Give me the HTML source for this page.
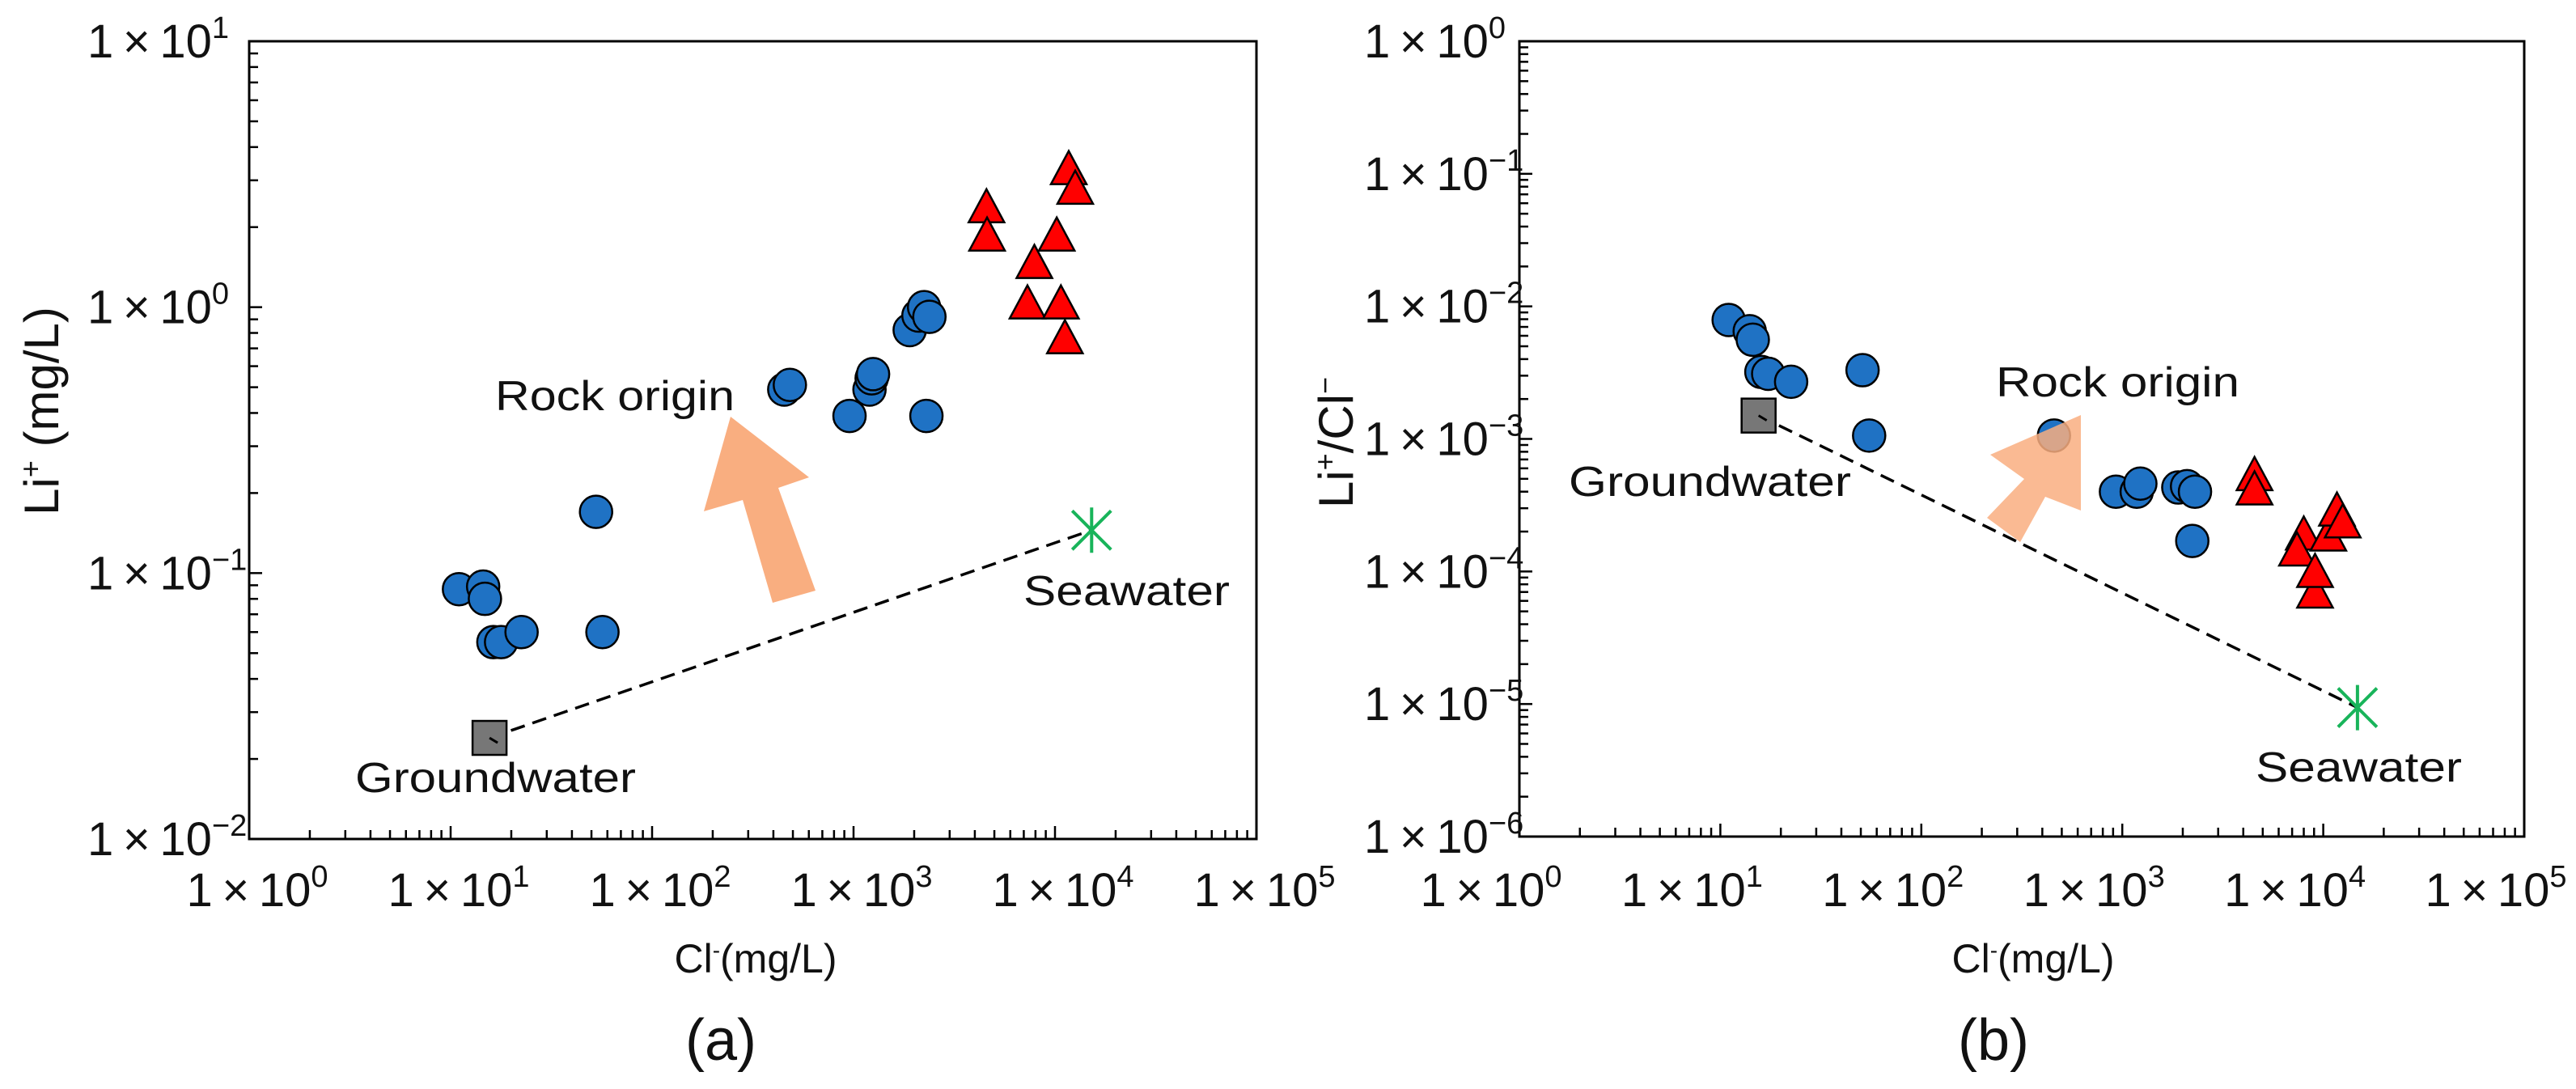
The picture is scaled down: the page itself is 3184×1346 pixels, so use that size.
<!DOCTYPE html>
<html><head><meta charset="utf-8">
<style>
html,body{margin:0;padding:0;background:#fff;}
svg{display:block;font-family:"Liberation Sans",Arial,sans-serif;}
</style></head>
<body>
<svg id="fig" width="3184" height="1346" viewBox="0 0 3184 1346" xmlns="http://www.w3.org/2000/svg">
<rect x="0" y="0" width="3184" height="1346" fill="#fff"/>
<g id="pa"></g>
<g id="pb"></g>
</svg>
<script>
// ---- Panel (a) data: Li+ vs Cl- ----
const aCircleCl = [11, 14.5, 14.8, 16.3, 17.8, 22.5, 52.7, 56.7, 453, 483, 955, 1200, 1230, 1250, 1900, 2100, 2240, 2380, 2300];
const aCircleLi = [0.087, 0.089, 0.08, 0.055, 0.055, 0.06, 0.17, 0.06, 0.49, 0.51, 0.39, 0.49, 0.54, 0.56, 0.82, 0.93, 1.0, 0.92, 0.39];
const aTriCl = [4570, 4600, 7900, 7300, 10200, 10700, 11200, 11700, 12600];
const aTriLi = [2.3, 1.8, 1.42, 1.0, 1.8, 1.0, 0.74, 3.2, 2.7];
const aGroundwater = [15.6, 0.024];
const aSeawater = [15200, 0.145];
// ---- Panel (b) data: Li+/Cl- vs Cl- ----
const bCircleCl = [11, 14, 14.5, 16, 17.3, 22.5, 51, 55, 457, 930, 1180, 1230, 1900, 2100, 2300, 2230];
const bCircleRatio = [0.0079, 0.0065, 0.0056, 0.0032, 0.0031, 0.0027, 0.0033, 0.00106, 0.00106, 0.0004, 0.0004, 0.00046, 0.00043, 0.00044, 0.0004, 0.00017];
const bTriCl = [4550, 4550, 8000, 7400, 9100, 9100, 10600, 11700, 12500];
const bTriRatio = [0.0005, 0.00039, 0.000178, 0.000135, 0.000065, 0.000093, 0.000175, 0.00027, 0.00022];
const bGroundwater = [15.5, 0.0015];
const bSeawater = [14800, 0.0000094];
// ---- Axis tick exponents ----
const xExps = [0, 1, 2, 3, 4, 5];
const aYExps = [-2, -1, 0, 1];
const bYExps = [-6, -5, -4, -3, -2, -1, 0];

const NS = "http://www.w3.org/2000/svg";
function mk(parent, tag, attrs) {
  const e = document.createElementNS(NS, tag);
  for (const k in attrs) e.setAttribute(k, attrs[k]);
  parent.appendChild(e);
  return e;
}
function supLabel(parent, x, y, exp, anchor) {
  const t = mk(parent, "text", {x: x, y: y, "font-size": 58, fill: "#111", "text-anchor": anchor});
  const s1 = document.createElementNS(NS, "tspan");
  s1.textContent = "1\u2009\u00d7\u200910";
  t.appendChild(s1);
  const s2 = document.createElementNS(NS, "tspan");
  s2.setAttribute("dy", -24);
  s2.setAttribute("font-size", 38);
  s2.textContent = exp < 0 ? "\u2212" + (-exp) : String(exp);
  t.appendChild(s2);
  return t;
}

function panel(g, cfg) {
  const L = cfg.L, R = cfg.R, T = cfg.T, B = cfg.B;
  const xs = v => L + (Math.log10(v) - 0) / 5 * (R - L);
  const ys = v => B - (Math.log10(v) - cfg.yMin) / (cfg.yMax - cfg.yMin) * (B - T);
  const fr = mk(g, "rect", {x: L, y: T, width: R - L, height: B - T, fill: "none", stroke: "#000", "stroke-width": 3});
  
  
  for (let d = 0; d < 5; d++) {
    for (let m = 1; m <= 9; m++) {
      const x = xs(Math.pow(10, d) * m);
      const len = m === 1 ? 16 : 11;
      const tk = mk(g, "line", {x1: x, y1: B, x2: x, y2: B - len, stroke: "#000", "stroke-width": 2.5});
      
      
    }
  }
  xExps.forEach(e => {
    const t = supLabel(g, xs(Math.pow(10, e)) + cfg.xLabOff, 1120, e, "middle");
    
    
  });
  for (let d = cfg.yMin; d < cfg.yMax; d++) {
    for (let m = 1; m <= 9; m++) {
      const y = ys(Math.pow(10, d) * m);
      const len = m === 1 ? 16 : 11;
      const tk = mk(g, "line", {x1: L, y1: y, x2: L + len, y2: y, stroke: "#000", "stroke-width": 2.5});
      
      
    }
  }
  cfg.yExps.forEach(e => {
    const t = supLabel(g, cfg.yLabX, ys(Math.pow(10, e)) + 20, e, "start");
    
    
  });
  const dl = mk(g, "line", {x1: xs(cfg.gw[0]), y1: ys(cfg.gw[1]), x2: xs(cfg.sw[0]), y2: ys(cfg.sw[1]), stroke: "#000", "stroke-width": 3.5, "stroke-dasharray": "18,10"});
  
  
  cfg.cx.forEach((v, i) => {
    const c = mk(g, "circle", {cx: xs(v), cy: ys(cfg.cy[i]), r: 20, fill: "#1f72c4", stroke: "#000", "stroke-width": 2.5});
    
    
  });
  cfg.tx.forEach((v, i) => {
    const x = xs(v), y = ys(cfg.ty[i]);
    const p = mk(g, "polygon", {points: `${x},${y - 27} ${x + 22},${y + 14} ${x - 22},${y + 14}`, fill: "#ff0000", stroke: "#000", "stroke-width": 2.5});
    
    
  });
  const ar = mk(g, "polygon", {points: cfg.arrow, fill: "#f9ae80", opacity: cfg.arrowOp});
  
  
  const gx = xs(cfg.gw[0]), gy = ys(cfg.gw[1]);
  const sq = mk(g, "rect", {x: gx - 21, y: gy - 21, width: 42, height: 42, fill: "#777", stroke: "#000", "stroke-width": 2.5});
  
  
  mk(g, "line", {x1: gx, y1: gy, x2: gx + 10, y2: gy + 6, stroke: "#000", "stroke-width": 3});
  const sx = xs(cfg.sw[0]), sy = ys(cfg.sw[1]);
  const st = mk(g, "g", {stroke: "#18b45a", "stroke-width": 4});
  
  
  mk(st, "line", {x1: sx, y1: sy - 28, x2: sx, y2: sy + 28});
  mk(st, "line", {x1: sx - 24, y1: sy - 24, x2: sx + 24, y2: sy + 24});
  mk(st, "line", {x1: sx - 24, y1: sy + 24, x2: sx + 24, y2: sy - 24});
  cfg.notes.forEach(n => {
    const t = mk(g, "text", {x: n[1], y: n[2], "font-size": 52, fill: "#111", textLength: n[3], lengthAdjust: "spacingAndGlyphs"});
    t.textContent = n[0];
    
    
  });
  const yt = mk(g, "text", {x: 0, y: 0, "font-size": 60, fill: "#111", "text-anchor": "middle", transform: `translate(${cfg.yTitle[0]},${cfg.yTitle[1]}) rotate(-90)`});
  
  
  cfg.yTitleParts.forEach(p => {
    const s = document.createElementNS(NS, "tspan");
    s.setAttribute("dy", p[1]);
    s.setAttribute("font-size", p[2]);
    s.textContent = p[0];
    yt.appendChild(s);
  });
  const xt = mk(g, "text", {x: cfg.xTitleX, y: 1202, "font-size": 50, fill: "#111", "text-anchor": "middle"});
  
  
  const a1 = document.createElementNS(NS, "tspan"); a1.textContent = "Cl"; xt.appendChild(a1);
  const a2 = document.createElementNS(NS, "tspan"); a2.setAttribute("dy", -18); a2.setAttribute("font-size", 28); a2.textContent = "-"; xt.appendChild(a2);
  const a3 = document.createElementNS(NS, "tspan"); a3.setAttribute("dy", 18); a3.setAttribute("font-size", 50); a3.textContent = "(mg/L)"; xt.appendChild(a3);
  const pl = mk(g, "text", {x: cfg.panelX, y: 1310, "font-size": 72, fill: "#111", "text-anchor": "middle"});
  pl.textContent = cfg.panelLabel;
  
  
}

panel(document.getElementById("pa"), {
  L: 308, R: 1553, T: 51, B: 1037, yMin: -2, yMax: 1, yExps: aYExps, yLabX: 108, xLabOff: 10,
  cx: aCircleCl, cy: aCircleLi, tx: aTriCl, ty: aTriLi, gw: aGroundwater, sw: aSeawater,
  arrow: "903,515 1000,590 962,603 1008,730 955,745 918,618 870,632", arrowOp: 1,
  notes: [["Rock origin", 612, 507, 296, "rock-origin-label"], ["Groundwater", 439, 979, 347, "groundwater-label"], ["Seawater", 1265, 748, 255, "seawater-label"]],
  yTitle: [72, 508], yTitleParts: [["Li", 0, 60], ["+", -22, 36], [" (mg/L)", 22, 60]],
  xTitleX: 934, panelX: 891, panelLabel: "(a)"
});
panel(document.getElementById("pb"), {
  L: 1878, R: 3120, T: 51, B: 1034, yMin: -6, yMax: 0, yExps: bYExps, yLabX: 1686, xLabOff: -35,
  cx: bCircleCl, cy: bCircleRatio, tx: bTriCl, ty: bTriRatio, gw: bGroundwater, sw: bSeawater,
  arrow: "2572,513 2572,631 2528,614 2497,670 2456,640 2502,592 2460,562", arrowOp: 0.85,
  notes: [["Rock origin", 2467, 490, 301, "rock-origin-label"], ["Groundwater", 1939, 613, 349, "groundwater-label"], ["Seawater", 2788, 966, 255, "seawater-label"]],
  yTitle: [1672, 547], yTitleParts: [["Li", 0, 60], ["+", -22, 36], ["/Cl", 22, 60], ["\u2212", -22, 36]],
  xTitleX: 2513, panelX: 2464, panelLabel: "(b)"
});
</script>
</body></html>
